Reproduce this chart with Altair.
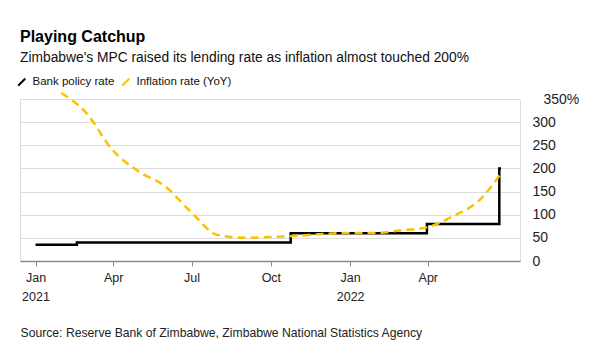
import altair as alt
import pandas as pd

# Bank policy rate (step changes)
policy_dates = ["2021-01-01", "2021-02-18", "2021-10-24", "2022-03-31", "2022-06-23", "2022-06-25"]
policy_values = [35, 40, 60, 80, 200, 200]

# Inflation rate YoY (monthly)
infl_dates = ["2021-01-31", "2021-02-28", "2021-03-31", "2021-04-30", "2021-05-31", "2021-06-30",
              "2021-07-31", "2021-08-31", "2021-09-30", "2021-10-31", "2021-11-30", "2021-12-31",
              "2022-01-31", "2022-02-28", "2022-03-31", "2022-04-30", "2022-05-31", "2022-06-26"]
infl_values = [363.0, 321.8, 240.6, 194.1, 161.8, 106.6, 56.4, 50.2, 51.6, 54.5, 58.4, 60.7,
               60.6, 66.1, 72.7, 96.4, 131.7, 191.6]

series_names = ["Bank policy rate", "Inflation rate (YoY)"]
series_colors = ["#000000", "#fcc200"]
y_ticks = [0, 50, 100, 150, 200, 250, 300, 350]
x_ticks = ["2021-01-01", "2021-04-01", "2021-07-01", "2021-10-01", "2022-01-01", "2022-04-01"]

policy_df = pd.DataFrame({"date": policy_dates, "value": policy_values, "series": series_names[0]})
infl_df = pd.DataFrame({"date": infl_dates, "value": infl_values, "series": series_names[1]})

FONT = "Liberation Sans"

x_enc = alt.X(
    "date:T",
    scale=alt.Scale(domain=["2020-12-14", "2022-07-17"]),
    axis=alt.Axis(
        values=[pd.Timestamp(d).isoformat() for d in x_ticks],
        labelExpr="[timeFormat(datum.value, '%b'), timeFormat(datum.value, '%m') == '01' ? timeFormat(datum.value, '%Y') : '']",
        grid=False,
        domainColor="#8c8c8c",
        domainWidth=1.5,
        tickColor="#8c8c8c",
        tickSize=5,
        tickWidth=1,
        labelColor="#222222",
        labelFont=FONT,
        labelFontSize=12.5,
        labelLineHeight=19,
        labelPadding=5,
        title="Source: Reserve Bank of Zimbabwe, Zimbabwe National Statistics Agency",
        titleAnchor="start",
        titleAlign="left",
        titleFont=FONT,
        titleFontSize=12.2,
        titleFontWeight="normal",
        titleColor="#222222",
        titlePadding=24,
    ),
)

y_enc = alt.Y(
    "value:Q",
    scale=alt.Scale(domain=[0, 350], nice=False),
    axis=alt.Axis(
        orient="right",
        values=y_ticks,
        labelExpr="datum.value == 350 ? '350%' : datum.label",
        labelAlign="left",
        labelPadding={"condition": {"test": "datum.value == 350", "value": 23}, "value": 12},
        labelColor="#222222",
        labelFont=FONT,
        labelFontSize=14,
        ticks=False,
        domain=False,
        gridColor="#dcdcdc",
        gridWidth=1,
        title=None,
    ),
)

color_enc = alt.Color(
    "series:N",
    scale=alt.Scale(domain=series_names, range=series_colors),
    legend=alt.Legend(
        title=None,
        orient="none",
        legendX=-4,
        legendY=-23,
        direction="horizontal",
        symbolType="M-1,1L1,-1",
        symbolSize=50,
        symbolStrokeWidth=2,
        symbolDash=[1, 0],
        labelFont=FONT,
        labelFontSize=11.5,
        labelColor="#111111",
        columnPadding=3,
        labelOffset=5,
    ),
)

policy = alt.Chart(policy_df).mark_line(
    interpolate="step-after", strokeWidth=2.5, strokeCap="butt", strokeJoin="miter"
).encode(x=x_enc, y=y_enc, color=color_enc)

infl = alt.Chart(infl_df).mark_line(
    interpolate="monotone", strokeWidth=2.5, strokeDash=[8, 5]
).encode(x=x_enc, y=y_enc, color=color_enc)

chart = alt.layer(policy, infl).properties(
    width=500,
    height=162,
    padding={"left": 16, "top": 29, "right": 5, "bottom": 5},
    title=alt.TitleParams(
        text="Playing Catchup",
        subtitle="Zimbabwe's MPC raised its lending rate as inflation almost touched 200%",
        anchor="start",
        font=FONT,
        fontSize=16,
        fontWeight="bold",
        color="#000000",
        subtitleFont=FONT,
        subtitleFontSize=13.8,
        subtitleColor="#111111",
        subtitlePadding=6,
        offset=11,
        frame="group",
    ),
).configure_view(stroke=None).configure(background="white")

chart.save("out.html", embed_options={"renderer": "svg", "actions": False})
